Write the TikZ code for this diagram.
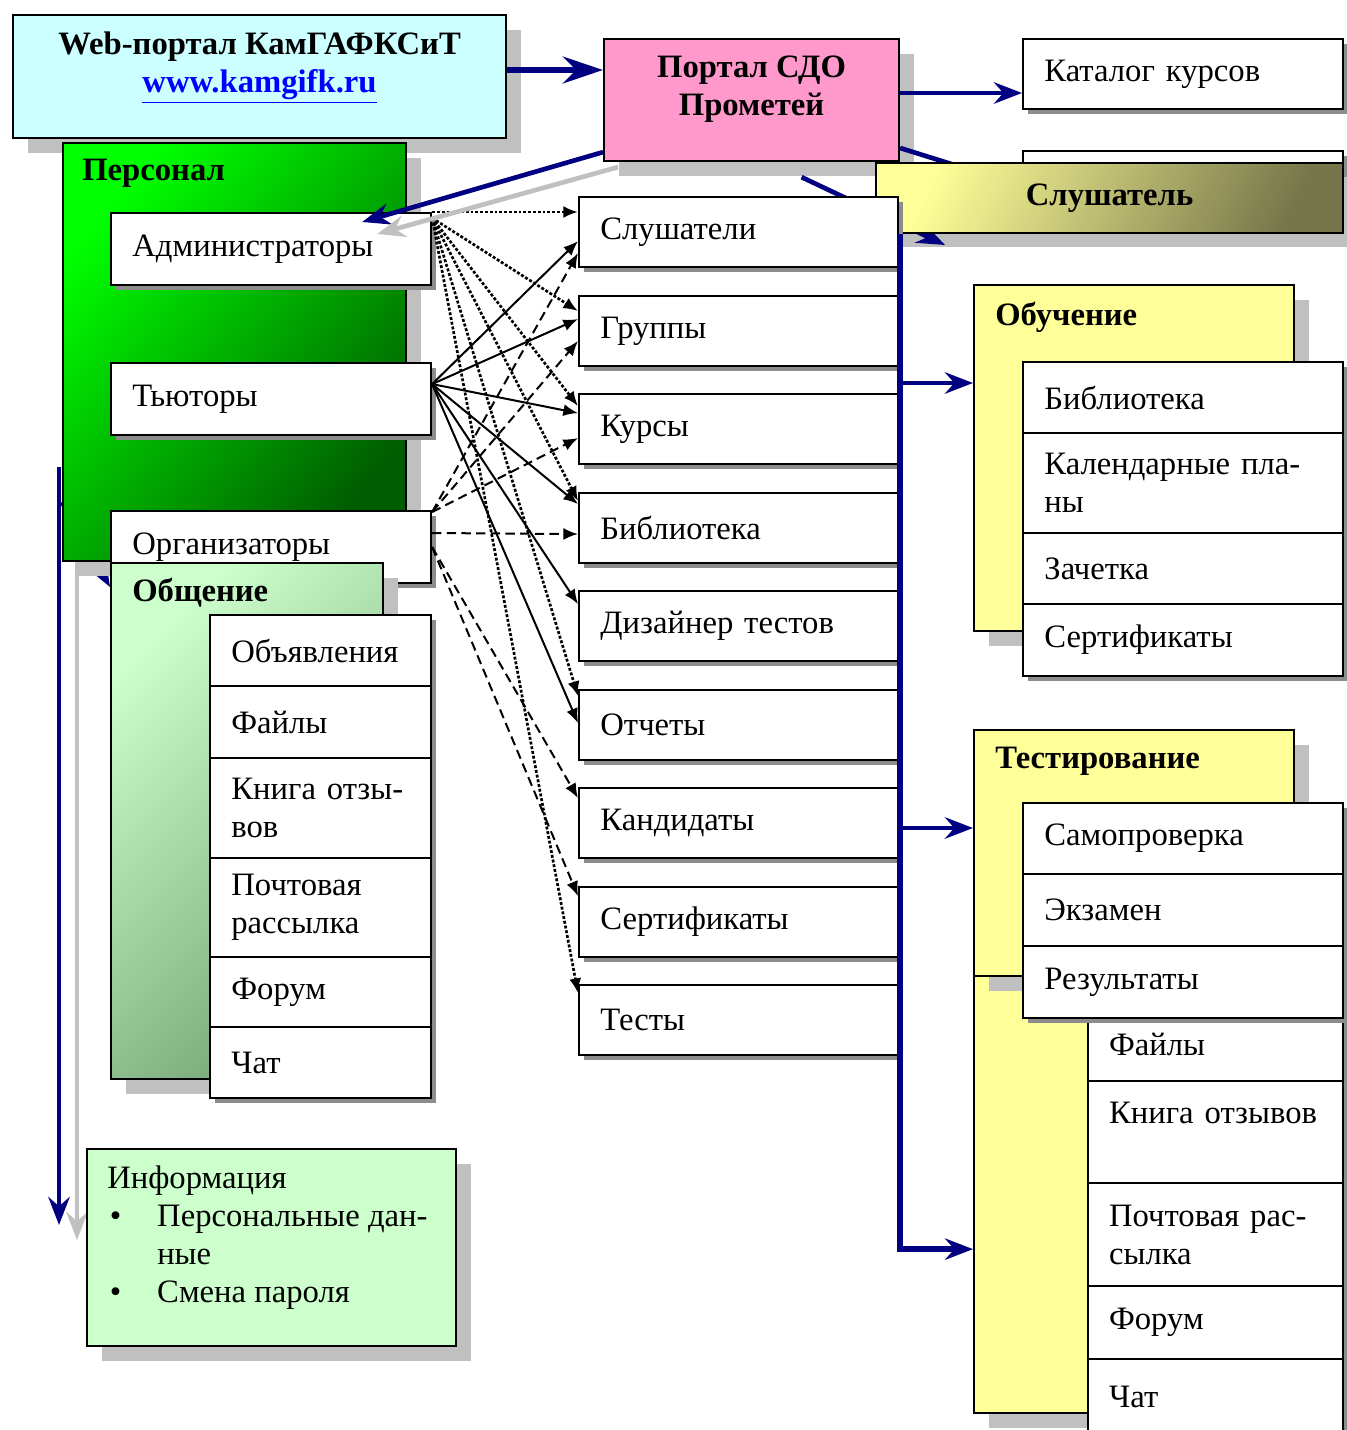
\documentclass[tikz,border=0pt]{standalone}
\usepackage{fontspec}
\setmainfont{Liberation Serif}
\usetikzlibrary{arrows.meta,shadows,calc}

\pgfdeclarelayer{bg}
\pgfsetlayers{bg,main}

\definecolor{webcyan}{HTML}{CCFFFF}
\definecolor{portalpink}{HTML}{FF99CC}
\definecolor{paleyellow}{HTML}{FFFF99}
\definecolor{palegreen}{HTML}{CCFFCC}
\definecolor{navyblue}{HTML}{000080}
\definecolor{lightgrey}{HTML}{C0C0C0}
\definecolor{shadegrey}{HTML}{C0C0C0}
\definecolor{edgegrey}{HTML}{8C8C8C}
\definecolor{linkblue}{HTML}{0000FF}
\definecolor{brightgreen}{HTML}{00FF00}
\definecolor{midgreen}{HTML}{00D400}
\definecolor{deepgreen}{HTML}{005C00}
\definecolor{mossgreen}{HTML}{74A474}
\definecolor{darkolive}{HTML}{76764A}

\newcommand{\boxsize}{\fontsize{24.5}{28.5}\selectfont}

\tikzset{
  panelshade/.style={drop shadow={shadow xshift=11.25pt,shadow yshift=-11.25pt,fill=shadegrey,opacity=1}},
  cellshade/.style={drop shadow={shadow xshift=3.5pt,shadow yshift=-3.5pt,fill=edgegrey,opacity=1}},
  boxframe/.style={draw=black,line width=1.6pt,anchor=north west,inner sep=0pt},
  panel/.style={boxframe,panelshade},
  itembox/.style={boxframe,cellshade,fill=white,align=left,inner xsep=16pt,text width=208pt,minimum width=240pt,minimum height=53.25pt},
  midbox/.style={itembox,text width=207.25pt,minimum width=239.25pt,minimum height=52.5pt},
  commbox/.style={itembox,text width=133.75pt,minimum width=165.75pt},
  lowbox/.style={itembox,inner xsep=15.75pt,text width=159.75pt,minimum width=191.25pt},
  heading/.style={anchor=west,inner sep=0pt,font=\boxsize\bfseries},
  bluearrow/.style={draw=navyblue,line width=3.5pt,-{Stealth[length=21pt,width=16pt,inset=7pt]}},
  bigarrow/.style={bluearrow,line width=5pt,-{Stealth[length=30pt,width=20pt,inset=10pt]}},
  greyarrow/.style={draw=lightgrey,line width=3.5pt,-{Stealth[length=21pt,width=16pt,inset=7pt]}},
  busline/.style={draw=navyblue,line width=4.5pt},
  tutlink/.style={line width=1.5pt,-{Latex[length=11pt,width=9pt]}},
  admlink/.style={tutlink,line width=2pt,line cap=butt,dash pattern=on 2.2pt off 1.4pt},
  orglink/.style={tutlink,dash pattern=on 7pt off 4pt}
}

\begin{document}
\begin{tikzpicture}[x=0.75pt,y=0.75pt,yscale=-1,xscale=1,font=\boxsize]
\useasboundingbox (0,0) rectangle (1346,1430);

%Shape: Rectangle - web portal
\node[panel,fill=webcyan,minimum width=369.75pt,minimum height=92.25pt,align=center,text depth=21pt,font=\boxsize\bfseries] (web) at (12,14) {Web-портал КамГАФКСиТ\\\textcolor{linkblue}{\underline{www.kamgifk.ru}}};
%Shape: Rectangle - portal
\node[panel,fill=portalpink,minimum width=221.25pt,minimum height=91.5pt,align=center,text depth=21pt,font=\boxsize\bfseries] (portal) at (603,38) {Портал СДО\\Прометей};
%Shape: Rectangle
\node[itembox,minimum height=52.5pt] (catalog) at (1022,38) {Каталог курсов};
%Shape: Rectangle
\node[itembox,minimum height=52.5pt] (hiddenbox) at (1022,150) {};

%Straight Lines
\draw[bigarrow] ($(web.north east)+(0,56)$) -- ($(portal.north west)+(0,32)$);
%Straight Lines
\draw[bluearrow] ($(portal.north east)+(0,55)$) -- ($(catalog.north west)+(0,55)$);
%Straight Lines
\draw[bluearrow] ($(portal.north east)+(0,110)$) -- (hiddenbox.west);

%Shape: Rectangle - listener shadow
\fill[shadegrey] (890,177) rectangle (1357,247);
\coordinate (listenerin) at (945,245);
%Straight Lines
\draw[bluearrow] ($(portal.south)+(50,15)$) -- (listenerin);
%Shape: Rectangle - listener
\node[boxframe,top color=paleyellow,bottom color=darkolive,shading angle=65,minimum width=350.25pt,minimum height=52.5pt,font=\boxsize\bfseries] (listener) at (875,162) {Слушатель};

%Shape: Rectangle - staff
\node[panel,top color=brightgreen,middle color=midgreen,bottom color=deepgreen,shading angle=50,minimum width=257.25pt,minimum height=313.5pt] (staff) at (62,142) {};
\node[heading] (stafftitle) at (82,173) {Персонал};
\node[itembox,minimum height=54pt] (admins) at (110,212) {Администраторы};
\node[itembox,minimum height=54pt] (tutors) at (110,362) {Тьюторы};
\node[itembox,minimum height=54pt] (organizers) at (110,510) {Организаторы};

%Shape: Rectangle - communication
\node[panel,top color=palegreen,bottom color=mossgreen,shading angle=45,minimum width=204pt,minimum height=387pt] (comm) at (110,562) {};
\node[heading] (commtitle) at (132,593) {Общение};
\node[commbox,minimum height=53.25pt] (commnews) at (209,614) {Объявления};
\node[commbox,minimum height=54pt] (commfiles) at (209,685) {Файлы};
\node[commbox,minimum height=75pt] (commbook) at (209,757) {Книга отзы-\\вов};
\node[commbox,minimum height=74.25pt] (commmail) at (209,857) {Почтовая\\рассылка};
\node[commbox,minimum height=52.5pt] (commforum) at (209,956) {Форум};
\node[commbox,minimum height=53.25pt] (commchat) at (209,1026) {Чат};

%Shape: Rectangle - information
\node[panel,fill=palegreen,minimum width=276.75pt,minimum height=147.75pt] (info) at (86,1148) {};
\node[anchor=north west,inner sep=0pt] (infotext) at (107,1162) {\begin{tabular}{@{}p{37.5pt}@{}l@{}}
\multicolumn{2}{@{}l@{}}{Информация}\\
\hspace*{2pt}\textbullet & Персональные дан-\\
 & ные\\
\hspace*{2pt}\textbullet & Смена пароля
\end{tabular}};

%Shape: Rectangle - middle column
\node[midbox] (students) at (578,196) {Слушатели};
\node[midbox] (groups) at (578,295) {Группы};
\node[midbox] (courses) at (578,393) {Курсы};
\node[midbox] (library) at (578,492) {Библиотека};
\node[midbox] (designer) at (578,590) {Дизайнер тестов};
\node[midbox] (reports) at (578,689) {Отчеты};
\node[midbox] (candidates) at (578,787) {Кандидаты};
\node[midbox] (certs) at (578,886) {Сертификаты};
\node[midbox] (tests) at (578,984) {Тесты};

%Shape: Rectangle - study
\node[panel,fill=paleyellow,minimum width=240pt,minimum height=259.5pt] (study) at (973,284) {};
\node[heading] (studytitle) at (995,317) {Обучение};
\node[itembox] (studylib) at (1022,361) {Библиотека};
\node[itembox,minimum height=75pt] (studyplan) at (1022,432) {Календарные пла-\\ны};
\node[itembox] (studybook) at (1022,532) {Зачетка};
\node[itembox,minimum height=54pt] (studycert) at (1022,603) {Сертификаты};

%Shape: Rectangle - testing
\node[panel,fill=paleyellow,minimum width=240pt,minimum height=337.5pt] (commpanel) at (973,962) {};
\node[panel,fill=paleyellow,minimum width=240pt,minimum height=184.5pt] (testing) at (973,729) {};
\node[heading] (testtitle) at (995,761) {Тестирование};
\node[lowbox,minimum height=54.75pt] (lowfiles) at (1087,1007) {Файлы};
\node[lowbox,minimum height=76.5pt] (lowbook) at (1087,1080) {Книга отзывов\\\mbox{}};
\node[lowbox,minimum height=77.25pt] (lowmail) at (1087,1182) {Почтовая рас-\\сылка};
\node[lowbox,minimum height=54.75pt] (lowforum) at (1087,1285) {Форум};
\node[lowbox,minimum height=57pt] (lowchat) at (1087,1358) {Чат};
\node[itembox] (selfcheck) at (1022,802) {Самопроверка};
\node[itembox,minimum height=54pt] (exam) at (1022,873) {Экзамен};
\node[itembox,minimum height=54pt] (results) at (1022,945) {Результаты};

%Straight Lines - bus
\coordinate (bustop) at ($(listener.south west)+(25,0)$);
\coordinate (studyin) at ($(study.north west)+(0,99)$);
\coordinate (testin) at ($(testing.north west)+(0,99)$);
\coordinate (commin) at ($(commpanel.south west)+(0,-165)$);
\draw[busline,-{Stealth[length=21pt,width=16pt,inset=7pt]}] (bustop) |- (commin);
\draw[bluearrow] (bustop |- studyin) -- (studyin);
\draw[bluearrow] (bustop |- testin) -- (testin);

%Straight Lines - administrators
\coordinate (adminsout) at ($(admins.north east)+(0,6)$);
\draw[admlink] (admins.north east) -- (students.west |- admins.north east);
\draw[admlink] (adminsout) -- ($(groups.west)+(0,-20)$);
\draw[admlink] (adminsout) -- ($(courses.west)+(0,-23)$);
\draw[admlink] (adminsout) -- ($(library.west)+(0,-27)$);
\draw[admlink] (adminsout) -- ($(reports.west)+(0,-29)$);
\draw[admlink] (adminsout) -- ($(tests.west)+(0,-27)$);

%Straight Lines - tutors
\coordinate (tutorsout) at ($(tutors.east)+(0,-15)$);
\draw[tutlink] (tutorsout) -- ($(students.west)+(0,9)$);
\draw[tutlink] (tutorsout) -- ($(groups.west)+(0,-12)$);
\draw[tutlink] (tutorsout) -- ($(courses.west)+(0,-16)$);
\draw[tutlink] (tutorsout) -- ($(library.west)+(0,-24)$);
\draw[tutlink] (tutorsout) -- ($(designer.west)+(0,-22)$);
\draw[tutlink] (tutorsout) -- ($(reports.west)+(0,-2)$);

%Straight Lines - organizers
\coordinate (organizersout) at ($(organizers.north east)+(0,2)$);
\draw[orglink] (organizersout) -- ($(students.west)+(0,21)$);
\draw[orglink] (organizersout) -- ($(groups.west)+(0,10)$);
\draw[orglink] (organizersout) -- ($(courses.west)+(0,9)$);
\draw[orglink] ($(organizers.north east)+(0,23)$) -- ($(library.west)+(0,6)$);
\draw[orglink] (organizers.east) -- ($(candidates.west)+(0,-25)$);
\draw[orglink] (organizers.east) -- ($(certs.west)+(0,-26)$);

%Straight Lines - portal to staff
\draw[bluearrow] ($(portal.south west)+(0,-10)$) -- ($(admins.north east)+(-70,10)$);
\draw[greyarrow] ($(portal.south west)+(15,5)$) -- ($(admins.north east)+(-55,22)$);

\begin{pgfonlayer}{bg}
%Straight Lines - left side
\draw[bluearrow] ($(staff.south west)+(-3,-95)$) -- ($(info.north west)+(-27,77)$);
\draw[greyarrow] ($(staff.south west)+(15,0)$) -- ($(info.north west)+(-9,92)$);
\draw[bluearrow] ($(staff.south west)+(0,-60)$) -- ($(comm.north west)+(0,25)$);
\end{pgfonlayer}

\end{tikzpicture}
\end{document}
